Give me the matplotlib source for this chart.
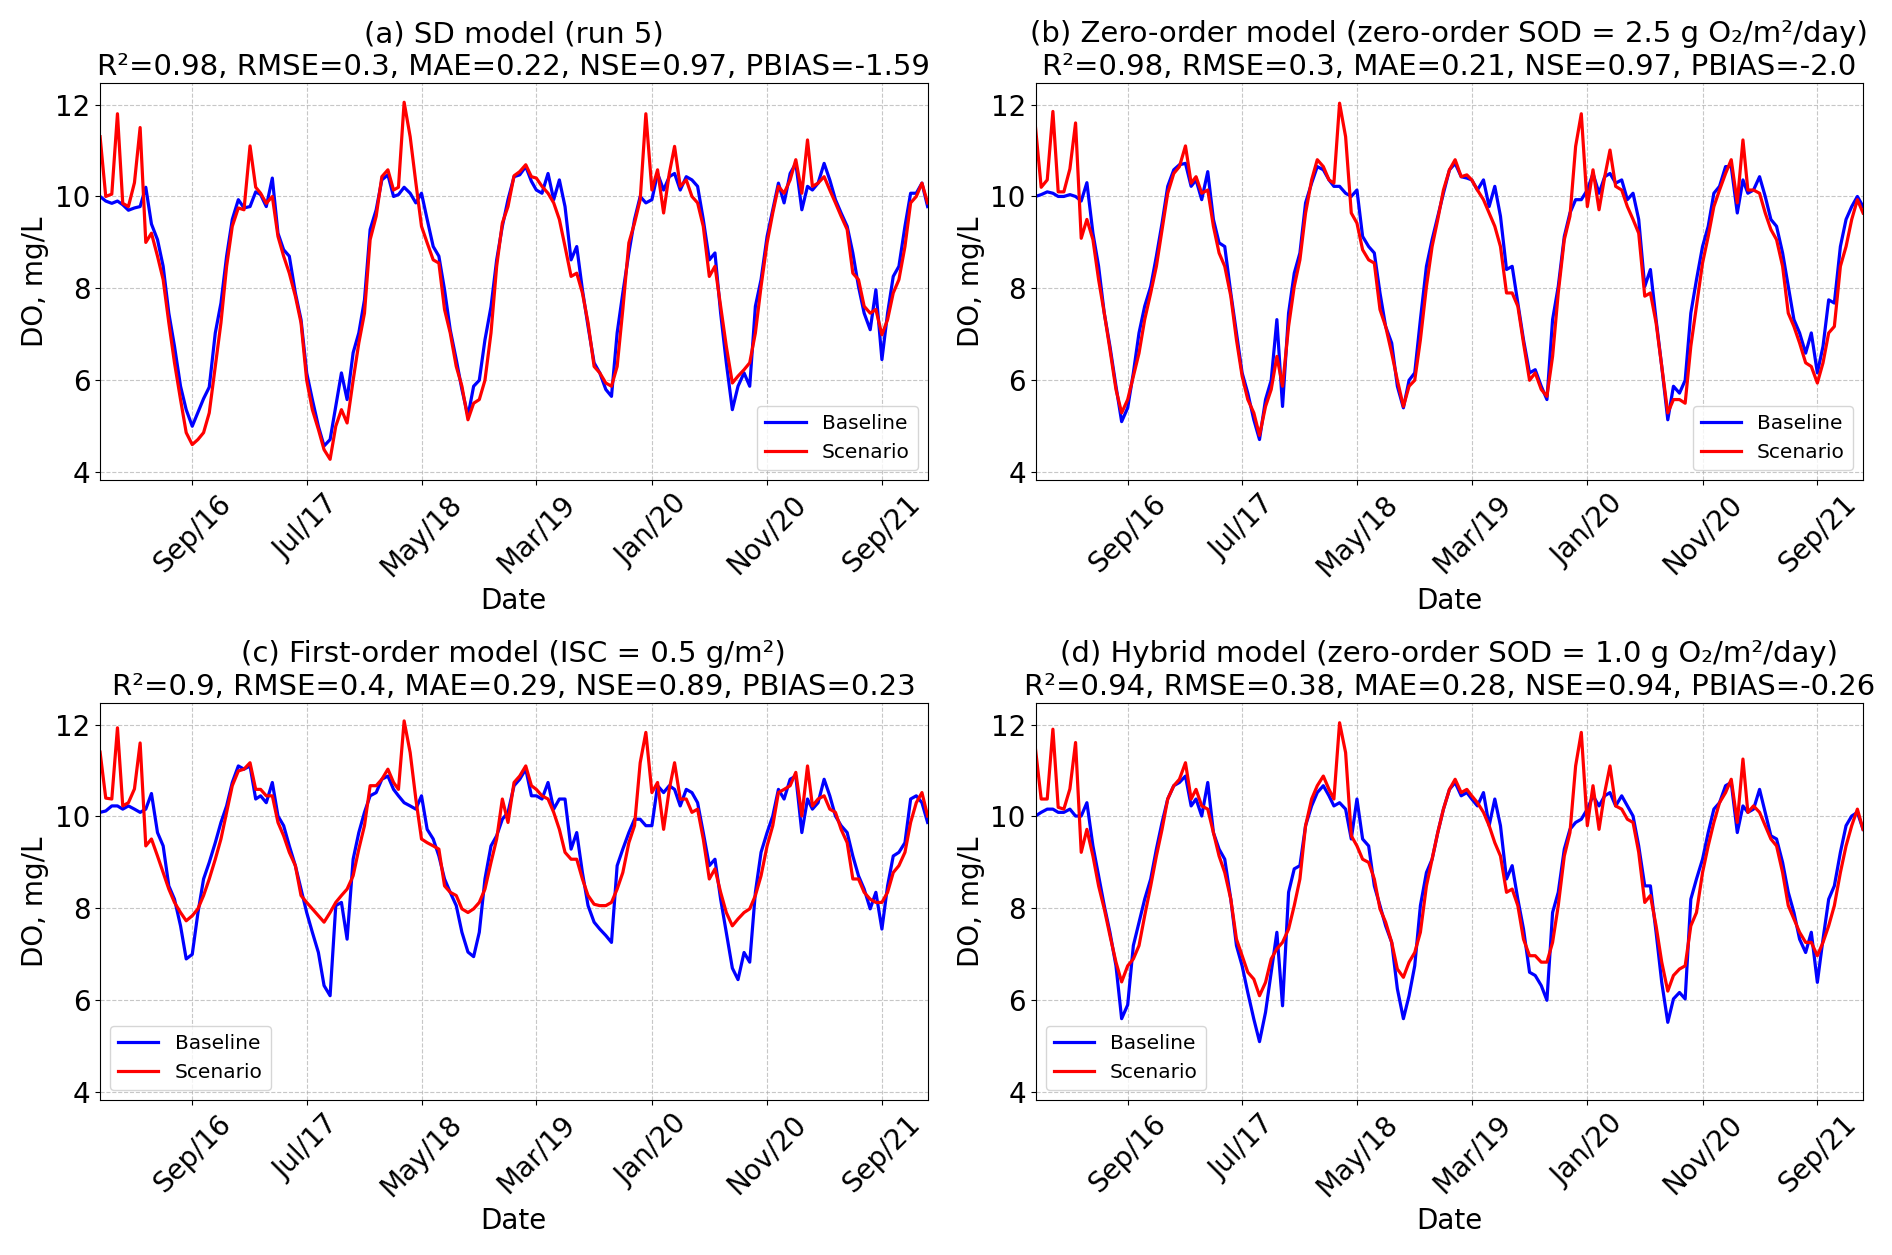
import pandas as pd
import matplotlib
matplotlib.use("Agg")
from matplotlib import pyplot as plt

# semi-monthly samples (1st and 16th of each month) + last day
dates = pd.date_range("2016-01-01", "2021-12-16", freq="SMS-16").append(pd.DatetimeIndex(["2021-12-31"]))

tick_dates = pd.to_datetime(["2016-09-01", "2017-07-01", "2018-05-01", "2019-03-01",
                             "2020-01-01", "2020-11-01", "2021-09-01"])
tick_labels = ["Sep/16", "Jul/17", "May/18", "Mar/19", "Jan/20", "Nov/20", "Sep/21"]

titles = [
    "(a) SD model (run 5)\nR²=0.98, RMSE=0.3, MAE=0.22, NSE=0.97, PBIAS=-1.59",
    "(b) Zero-order model (zero-order SOD = 2.5 g O₂/m²/day)\nR²=0.98, RMSE=0.3, MAE=0.21, NSE=0.97, PBIAS=-2.0",
    "(c) First-order model (ISC = 0.5 g/m²)\nR²=0.9, RMSE=0.4, MAE=0.29, NSE=0.89, PBIAS=0.23",
    "(d) Hybrid model (zero-order SOD = 1.0 g O₂/m²/day)\nR²=0.94, RMSE=0.38, MAE=0.28, NSE=0.94, PBIAS=-0.26",
]
legend_locs = ["lower right", "lower right", "lower left", "lower left"]

# (a) SD model
a_base = [10.0, 9.9, 9.85, 9.9, 9.82, 9.7, 9.75, 9.78, 10.2, 9.4, 9.06, 8.48, 7.46, 6.74, 5.87, 5.36, 5.0, 5.3, 5.6, 5.85, 7.03, 7.68, 8.7, 9.5,
          9.93, 9.75, 9.78, 10.1, 10.04, 9.78, 10.4, 9.2, 8.84, 8.7, 7.9, 7.32, 6.16, 5.58, 5.0, 4.57, 4.71, 5.43, 6.16, 5.58, 6.6, 7.03, 7.75, 9.28,
          9.71, 10.36, 10.47, 10.0, 10.04, 10.2, 10.07, 9.86, 10.07, 9.5, 8.91, 8.7, 7.97, 7.1, 6.45, 5.8, 5.22, 5.87, 6.0, 6.88, 7.6, 8.62, 9.35, 9.93,
          10.43, 10.47, 10.65, 10.33, 10.14, 10.07, 10.5, 9.93, 10.36, 9.78, 8.62, 8.91, 7.97, 7.17, 6.38, 6.16, 5.8, 5.65, 7.03, 7.9, 8.77, 9.5, 10.0, 9.86,
          9.93, 10.5, 10.14, 10.43, 10.5, 10.14, 10.43, 10.36, 10.22, 9.5, 8.62, 8.77, 7.46, 6.38, 5.36, 5.87, 6.16, 5.87, 7.61, 8.19, 9.13, 9.71, 10.29, 9.86,
          10.5, 10.72, 9.71, 10.22, 10.14, 10.29, 10.72, 10.36, 9.93, 9.64, 9.35, 8.77, 8.04, 7.46, 7.1, 7.97, 6.45, 7.46, 8.26, 8.48, 9.35, 10.07, 10.07, 10.29, 9.78]
a_scen = [11.3, 10.0, 10.05, 11.8, 9.85, 9.78, 10.3, 11.5, 9.0, 9.2, 8.7, 8.19, 7.25, 6.38, 5.58, 4.86, 4.6, 4.71, 4.86, 5.29, 6.3, 7.25, 8.48, 9.35,
          9.75, 9.71, 11.1, 10.2, 10.07, 9.85, 10.0, 9.13, 8.7, 8.33, 7.83, 7.25, 6.0, 5.36, 4.93, 4.49, 4.28, 5.0, 5.36, 5.07, 6.0, 6.81, 7.46, 9.06,
          9.57, 10.43, 10.58, 10.14, 10.2, 12.05, 11.3, 10.3, 9.35, 8.99, 8.62, 8.55, 7.54, 7.03, 6.3, 5.87, 5.14, 5.5, 5.58, 6.0, 7.03, 8.48, 9.42, 9.78,
          10.45, 10.54, 10.69, 10.43, 10.4, 10.22, 10.07, 9.86, 9.5, 8.91, 8.26, 8.33, 7.9, 7.25, 6.3, 6.16, 5.94, 5.87, 6.3, 7.54, 8.99, 9.42, 9.93, 11.8,
          10.14, 10.58, 9.64, 10.5, 11.09, 10.22, 10.36, 10.0, 9.86, 9.35, 8.26, 8.48, 7.61, 6.74, 5.94, 6.09, 6.23, 6.38, 7.03, 8.04, 8.99, 9.64, 10.22, 10.07,
          10.36, 10.8, 10.07, 11.23, 10.22, 10.29, 10.43, 10.14, 9.86, 9.57, 9.28, 8.33, 8.19, 7.61, 7.46, 7.54, 6.99, 7.32, 7.9, 8.19, 8.91, 9.86, 10.0, 10.29, 9.86]

# (b) zero-order model
b_base = [10.0, 10.04, 10.1, 10.07, 10.0, 10.0, 10.04, 10.0, 9.9, 10.3, 9.2, 8.48, 7.46, 6.74, 5.87, 5.1, 5.4, 6.16, 7.03, 7.61, 8.04, 8.7, 9.42, 10.22,
          10.58, 10.69, 10.72, 10.22, 10.36, 9.93, 10.54, 9.5, 8.99, 8.91, 7.9, 7.03, 6.16, 5.72, 5.14, 4.71, 5.58, 6.0, 7.32, 5.43, 7.46, 8.33, 8.77, 9.86,
          10.29, 10.65, 10.58, 10.36, 10.22, 10.22, 10.07, 10.0, 10.14, 9.13, 8.91, 8.77, 7.9, 7.17, 6.81, 5.87, 5.4, 6.0, 6.16, 7.32, 8.48, 9.06, 9.57, 10.07,
          10.58, 10.72, 10.43, 10.4, 10.36, 10.14, 10.36, 9.78, 10.22, 9.57, 8.41, 8.48, 7.68, 6.88, 6.16, 6.23, 5.87, 5.58, 7.32, 8.04, 9.13, 9.64, 9.93, 9.93,
          10.14, 10.5, 10.07, 10.43, 10.5, 10.29, 10.36, 9.93, 10.07, 9.5, 8.04, 8.41, 7.32, 6.3, 5.14, 5.87, 5.72, 6.0, 7.46, 8.19, 8.91, 9.35, 10.07, 10.22,
          10.65, 10.65, 9.64, 10.36, 10.07, 10.14, 10.43, 10.0, 9.5, 9.35, 8.77, 8.04, 7.32, 7.03, 6.59, 7.03, 6.16, 6.74, 7.75, 7.68, 8.91, 9.5, 9.78, 10.0, 9.78]
b_scen = [11.5, 10.2, 10.36, 11.85, 10.1, 10.1, 10.6, 11.6, 9.09, 9.5, 9.06, 8.19, 7.46, 6.67, 5.8, 5.29, 5.58, 6.09, 6.59, 7.32, 7.9, 8.48, 9.28, 10.07,
          10.5, 10.65, 11.1, 10.29, 10.43, 10.07, 10.14, 9.35, 8.77, 8.48, 7.83, 6.88, 6.09, 5.58, 5.29, 4.8, 5.43, 5.8, 6.52, 5.87, 7.17, 8.04, 8.62, 9.64,
          10.36, 10.8, 10.65, 10.36, 10.29, 12.03, 11.3, 9.64, 9.42, 8.84, 8.62, 8.55, 7.54, 7.17, 6.59, 6.0, 5.43, 5.87, 6.0, 6.88, 8.04, 8.91, 9.5, 10.14,
          10.58, 10.8, 10.43, 10.47, 10.36, 10.14, 9.93, 9.64, 9.35, 8.91, 7.9, 7.9, 7.61, 6.81, 6.0, 6.16, 5.8, 5.65, 6.52, 7.9, 9.06, 9.57, 11.09, 11.8,
          9.78, 10.58, 9.71, 10.43, 11.01, 10.22, 10.14, 9.78, 9.5, 9.2, 7.83, 7.9, 7.25, 6.3, 5.29, 5.58, 5.58, 5.5, 6.74, 7.61, 8.55, 9.13, 9.78, 10.14,
          10.5, 10.8, 9.86, 11.23, 10.14, 10.14, 10.07, 9.64, 9.28, 9.06, 8.48, 7.46, 7.17, 6.81, 6.38, 6.3, 5.94, 6.38, 7.03, 7.17, 8.48, 8.91, 9.5, 9.93, 9.64]

# (c) first-order model
c_base = [10.09, 10.12, 10.23, 10.23, 10.16, 10.23, 10.16, 10.09, 10.16, 10.5, 9.65, 9.36, 8.49, 8.2, 7.62, 6.9, 7.0, 7.9, 8.64, 9.0, 9.43, 9.87, 10.23, 10.74,
          11.1, 11.03, 11.1, 10.38, 10.45, 10.3, 10.74, 10.01, 9.8, 9.36, 8.93, 8.42, 7.91, 7.48, 7.04, 6.32, 6.1, 8.06, 8.13, 7.33, 9.07, 9.65, 10.09, 10.45,
          10.52, 10.81, 10.88, 10.59, 10.45, 10.3, 10.23, 10.16, 10.45, 9.72, 9.51, 9.14, 8.64, 8.35, 8.06, 7.48, 7.05, 6.95, 7.48, 8.64, 9.36, 9.58, 9.94, 10.09,
          10.67, 10.81, 11.03, 10.45, 10.45, 10.38, 10.74, 10.16, 10.38, 10.38, 9.29, 9.65, 8.78, 8.06, 7.7, 7.55, 7.41, 7.26, 8.93, 9.29, 9.65, 9.94, 9.94, 9.8,
          9.8, 10.67, 10.52, 10.67, 10.59, 10.23, 10.59, 10.52, 10.3, 9.65, 8.93, 9.07, 8.2, 7.48, 6.7, 6.45, 7.04, 6.83, 8.35, 9.22, 9.65, 10.01, 10.59, 10.38,
          10.81, 10.88, 9.65, 10.38, 10.16, 10.3, 10.81, 10.45, 10.01, 9.8, 9.65, 9.14, 8.71, 8.42, 7.99, 8.35, 7.55, 8.49, 9.14, 9.22, 9.43, 10.38, 10.45, 10.3, 9.87]
c_scen = [11.4, 10.4, 10.38, 11.93, 10.23, 10.3, 10.6, 11.6, 9.36, 9.51, 9.14, 8.78, 8.42, 8.13, 7.91, 7.73, 7.84, 7.99, 8.28, 8.64, 9.07, 9.51, 10.09, 10.67,
          10.99, 11.03, 11.17, 10.59, 10.59, 10.45, 10.45, 9.87, 9.58, 9.22, 8.93, 8.28, 8.13, 7.99, 7.84, 7.7, 7.91, 8.13, 8.28, 8.42, 8.71, 9.29, 9.8, 10.67,
          10.67, 10.81, 11.03, 10.74, 10.59, 12.08, 11.39, 10.38, 9.51, 9.43, 9.36, 9.29, 8.49, 8.35, 8.28, 7.99, 7.91, 7.99, 8.13, 8.42, 9.0, 9.51, 10.38, 9.87,
          10.74, 10.88, 11.1, 10.67, 10.59, 10.45, 10.38, 10.09, 9.72, 9.22, 9.07, 9.07, 8.64, 8.28, 8.09, 8.06, 8.06, 8.13, 8.42, 8.78, 9.43, 9.8, 11.17, 11.83,
          10.52, 10.74, 9.72, 10.59, 11.17, 10.38, 10.38, 10.09, 10.16, 9.51, 8.64, 8.86, 8.35, 7.91, 7.62, 7.77, 7.91, 7.99, 8.28, 8.71, 9.36, 9.8, 10.52, 10.59,
          10.67, 10.96, 10.01, 11.1, 10.23, 10.38, 10.45, 10.16, 10.09, 9.72, 9.43, 8.64, 8.64, 8.35, 8.2, 8.13, 8.13, 8.35, 8.78, 8.93, 9.22, 9.87, 10.3, 10.52, 10.01]

# (d) hybrid model
d_base = [10.01, 10.09, 10.16, 10.16, 10.09, 10.09, 10.16, 10.01, 10.01, 10.3, 9.36, 8.71, 8.06, 7.48, 6.75, 5.6, 5.9, 7.19, 7.7, 8.2, 8.64, 9.29, 9.87, 10.38,
          10.67, 10.74, 10.88, 10.23, 10.38, 10.01, 10.74, 9.65, 9.29, 9.07, 8.2, 7.19, 6.75, 6.17, 5.59, 5.1, 5.74, 6.61, 7.48, 5.88, 8.35, 8.86, 8.93, 9.8,
          10.23, 10.52, 10.67, 10.45, 10.23, 10.3, 10.16, 9.51, 10.38, 9.51, 9.36, 8.49, 8.06, 7.62, 7.26, 6.25, 5.6, 6.1, 6.75, 8.06, 8.78, 9.07, 9.65, 10.16,
          10.59, 10.74, 10.45, 10.52, 10.38, 10.23, 10.52, 9.8, 10.38, 9.8, 8.64, 8.93, 8.2, 7.55, 6.61, 6.54, 6.32, 6.0, 7.91, 8.35, 9.29, 9.72, 9.87, 9.94,
          10.16, 10.45, 10.23, 10.45, 10.52, 10.23, 10.45, 10.23, 10.01, 9.36, 8.49, 8.49, 7.48, 6.39, 5.52, 6.03, 6.17, 6.03, 8.2, 8.64, 9.07, 9.65, 10.16, 10.3,
          10.67, 10.74, 9.65, 10.23, 10.09, 10.16, 10.59, 10.09, 9.58, 9.51, 9.0, 8.35, 7.91, 7.33, 7.04, 7.48, 6.39, 7.33, 8.2, 8.49, 9.22, 9.8, 10.01, 10.09, 9.72]
d_scen = [11.46, 10.38, 10.38, 11.9, 10.2, 10.16, 10.6, 11.61, 9.22, 9.72, 9.14, 8.49, 7.99, 7.41, 6.83, 6.4, 6.75, 6.9, 7.19, 7.84, 8.49, 9.14, 9.72, 10.38,
          10.67, 10.81, 11.17, 10.38, 10.59, 10.23, 10.16, 9.65, 9.14, 8.78, 8.2, 7.33, 6.97, 6.61, 6.46, 6.1, 6.39, 6.9, 7.12, 7.26, 7.55, 8.06, 8.64, 9.8,
          10.38, 10.67, 10.88, 10.59, 10.38, 12.04, 11.39, 9.58, 9.36, 9.07, 9.0, 8.64, 7.99, 7.7, 7.26, 6.68, 6.5, 6.83, 7.04, 7.48, 8.49, 9.07, 9.65, 10.16,
          10.59, 10.81, 10.52, 10.59, 10.45, 10.3, 10.09, 9.8, 9.43, 9.14, 8.35, 8.42, 8.06, 7.33, 6.97, 6.97, 6.83, 6.83, 7.26, 8.06, 9.14, 9.65, 11.1, 11.83,
          9.8, 10.67, 9.72, 10.52, 11.1, 10.23, 10.16, 9.94, 9.87, 9.22, 8.13, 8.28, 7.62, 6.83, 6.2, 6.54, 6.68, 6.75, 7.62, 7.91, 8.78, 9.36, 9.87, 10.3,
          10.52, 10.81, 9.87, 11.25, 10.09, 10.23, 10.09, 9.8, 9.51, 9.36, 8.78, 8.06, 7.77, 7.48, 7.26, 7.26, 6.97, 7.26, 7.62, 8.06, 8.78, 9.36, 9.8, 10.16, 9.72]

baselines = [a_base, b_base, c_base, d_base]
scenarios = [a_scen, b_scen, c_scen, d_scen]

fig, axes = plt.subplots(2, 2, figsize=(18.92, 12.55), dpi=100)
plt.subplots_adjust(left=0.0529, right=0.9847, bottom=0.1235, top=0.9339, wspace=0.1304, hspace=0.5617)

for ax, title, base, scen, loc in zip(axes.flat, titles, baselines, scenarios, legend_locs):
    ax.plot(dates, base, color="blue", lw=2.3, label="Baseline")
    ax.plot(dates, scen, color="red", lw=2.3, label="Scenario")
    ax.set_title(title, fontsize=21)
    ax.set_xlabel("Date", fontsize=20)
    ax.set_ylabel("DO, mg/L", fontsize=20)
    ax.set_xlim(pd.Timestamp("2016-01-01"), pd.Timestamp("2021-12-31"))
    ax.set_ylim(3.83, 12.47)
    ax.set_yticks([4, 6, 8, 10, 12])
    ax.set_xticks(tick_dates)
    ax.set_xticklabels(tick_labels, rotation=45)
    ax.tick_params(labelsize=20)
    ax.grid(True, linestyle="--", alpha=0.7)
    ax.legend(loc=loc, fontsize=14.5)

plt.savefig("out.png", dpi=100)
